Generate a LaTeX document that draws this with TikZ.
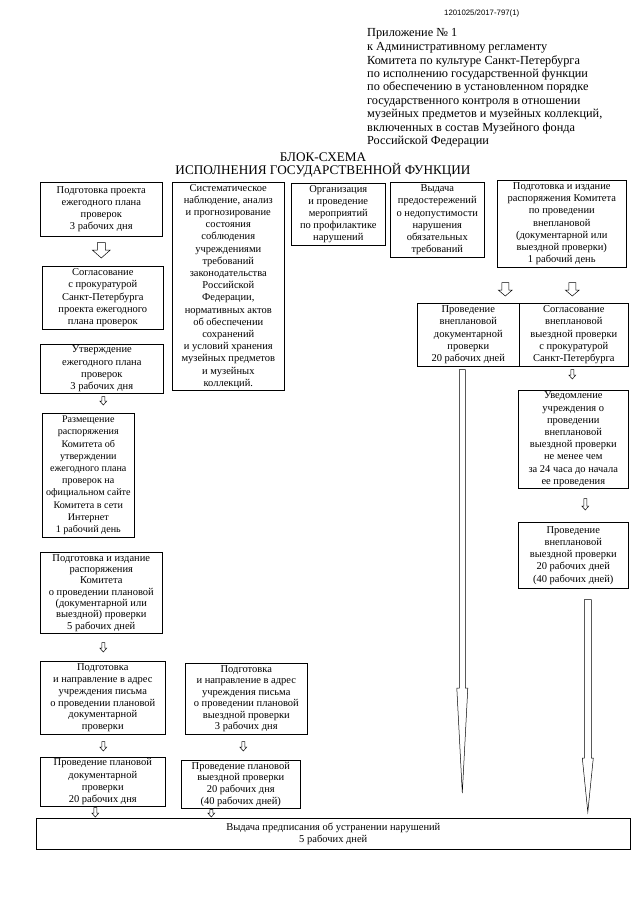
\documentclass[tikz,border=0pt]{standalone}
\usepackage{fontspec}
\setmainfont{Liberation Serif}
\newfontfamily\numfont{Liberation Sans}
\usetikzlibrary{calc,positioning}

% hollow block arrow: from, to, shaft half width, head half width, head length
\newcommand{\blockarrow}[5]{%
  \path #1 coordinate (ba-s);
  \path #2 coordinate (ba-e);
  \path (ba-s |- ba-e) coordinate (ba-t);
  \draw[arrowline] ($(ba-s)+(-#3,0)$) -- ($(ba-t)+(-#3,-#5)$) -- ($(ba-t)+(-#4,-#5)$) -- (ba-t)
    -- ($(ba-t)+(#4,-#5)$) -- ($(ba-t)+(#3,-#5)$) -- ($(ba-s)+(#3,0)$) -- cycle;}

\begin{document}
\begin{tikzpicture}[x=1pt,y=-1pt,
  box/.style={draw, line width=0.6pt, anchor=north west, align=center, inner sep=1pt,
    font=\fontsize{10.5}{12.2}\selectfont},
  tight/.style={font=\fontsize{10.5}{#1}\selectfont},
  arrowline/.style={line width=0.5pt, line join=miter}]
\useasboundingbox (0,0) rectangle (640,905);

% header
\node[anchor=north west, font=\numfont\fontsize{7.8}{8}\selectfont, inner sep=0pt] (docnum) at (444,10) {1201025/2017-797(1)};
\node[anchor=north west, align=left, inner sep=0pt, font=\fontsize{12.3}{13.4}\selectfont] (annex) at (367,28)
  {Приложение № 1\\[1pt]
   к Административному регламенту\\
   Комитета по культуре Санкт-Петербурга\\
   по исполнению государственной функции\\
   по обеспечению в установленном порядке\\
   государственного контроля в отношении\\
   музейных предметов и музейных коллекций,\\
   включенных в состав Музейного фонда\\
   Российской Федерации};
\node[align=center, inner sep=0pt, font=\fontsize{13.2}{13.2}\selectfont] (title) at (323,165)
  {БЛОК-СХЕМА\\ИСПОЛНЕНИЯ ГОСУДАРСТВЕННОЙ ФУНКЦИИ};

% left column
\node[box, minimum width=122, minimum height=54] (A1) at (40,182)
  {Подготовка проекта\\ежегодного плана\\проверок\\3 рабочих дня};
\node[box, minimum width=121, minimum height=63] (A2) at (42,266)
  {Согласование\\с прокуратурой\\Санкт-Петербурга\\проекта ежегодного\\плана проверок};
\node[box, minimum width=123, minimum height=49] (A3) at (40,344)
  {Утверждение\\ежегодного плана\\проверок\\3 рабочих дня};
\node[box, font=\fontsize{10.1}{12.2}\selectfont, minimum width=92, minimum height=124] (A4) at (42,413)
  {Размещение\\распоряжения\\Комитета об\\утверждении\\ежегодного плана\\проверок на\\официальном сайте\\Комитета в сети\\Интернет\\1 рабочий день};
\node[box, tight=11.3, minimum width=122, minimum height=81] (A5) at (40,552)
  {Подготовка и издание\\распоряжения\\Комитета\\о проведении плановой\\(документарной или\\выездной) проверки\\5 рабочих дней};
\node[box, tight=11.8, minimum width=125, minimum height=73] (A6) at (40,661)
  {Подготовка\\и направление в адрес\\учреждения письма\\о проведении плановой\\документарной\\проверки};
\node[box, minimum width=125, minimum height=49] (A7) at (40,757)
  {Проведение плановой\\документарной\\проверки\\20 рабочих дня};

% middle column
\node[box, minimum width=112, minimum height=208] (B1) at (172,182)
  {Систематическое\\наблюдение, анализ\\и прогнозирование\\состояния\\соблюдения\\учреждениями\\требований\\законодательства\\Российской\\Федерации,\\нормативных актов\\об обеспечении\\сохранений\\и условий хранения\\музейных предметов\\и музейных\\коллекций.};
\node[box, tight=11.5, minimum width=122, minimum height=71] (B2) at (185,663)
  {Подготовка\\и направление в адрес\\учреждения письма\\о проведении плановой\\выездной проверки\\3 рабочих дня};
\node[box, tight=11.6, minimum width=119, minimum height=48] (B3) at (181,760)
  {Проведение плановой\\выездной проверки\\20 рабочих дня\\(40 рабочих дней)};

% top row, right part
\node[box, tight=12, minimum width=94, minimum height=62] (C1) at (291,183)
  {Организация\\и проведение\\мероприятий\\по профилактике\\нарушений};
\node[box, minimum width=94, minimum height=75] (D1) at (390,182)
  {Выдача\\предостережений\\о недопустимости\\нарушения\\обязательных\\требований};
\node[box, minimum width=129, minimum height=87] (E1) at (497,180)
  {Подготовка и издание\\распоряжения Комитета\\по проведении\\внеплановой\\(документарной или\\выездной проверки)\\1 рабочий день};

% right part
\node[box, minimum width=102, minimum height=63] (E2a) at (417,303)
  {Проведение\\внеплановой\\документарной\\проверки\\20 рабочих дней};
\node[box, minimum width=109, minimum height=63] (E2b) at (519,303)
  {Согласование\\внеплановой\\выездной проверки\\с прокуратурой\\Санкт-Петербурга};
\node[box, minimum width=110, minimum height=98] (E3) at (518,390)
  {Уведомление\\учреждения о\\проведении\\внеплановой\\выездной проверки\\не менее чем\\за 24 часа до начала\\ее проведения};
\node[box, minimum width=110, minimum height=66] (E4) at (518,522)
  {Проведение\\внеплановой\\выездной проверки\\20 рабочих дней\\(40 рабочих дней)};

% bottom
\node[box, minimum width=594, minimum height=31] (F) at (36,818)
  {Выдача предписания об устранении нарушений\\5 рабочих дней};

% arrows
\blockarrow{($(A1.south)+(0,6)$)}{($(A2.north)+(0,-8)$)}{4}{9}{8}
\blockarrow{($(A3.south)+(1.5,3)$)}{($(A4.north)+(0,-8)$)}{1.5}{3.5}{4}
\blockarrow{($(A5.south)+(2,9)$)}{($(A6.north)+(0,-9)$)}{1.5}{3.5}{4}
\blockarrow{($(A6.south)+(0.5,7)$)}{($(A7.north)+(0,-6)$)}{1.5}{3.5}{4}
\blockarrow{($(A7.south)+(-7.5,1)$)}{($(F.north)+(0,-1)$)}{1.5}{3.5}{4}
\blockarrow{($(B2.south)+(-3,7)$)}{($(B3.north)+(0,-9)$)}{1.5}{3.5}{4}
\blockarrow{($(B3.south)+(-29.5,1)$)}{($(F.north)+(0,-1)$)}{1.5}{3.5}{4}
\blockarrow{($(E1.south)+(-56.5,15)$)}{($(E2a.north)+(0,-7)$)}{3.5}{7}{6}
\blockarrow{($(E1.south)+(10.5,15)$)}{($(E2b.north)+(0,-7)$)}{3.5}{7}{6}
\blockarrow{($(E2b.south)+(-1.5,3)$)}{($(E3.north)+(0,-11)$)}{1.5}{3.5}{4}
\blockarrow{($(E3.south)+(12,10)$)}{($(E4.north)+(0,-12)$)}{1.5}{3.5}{4}
\blockarrow{($(E2a.south)+(-6,3)$)}{($(F.north)+(0,-25)$)}{3}{5.5}{105}
\blockarrow{($(E4.south)+(14.5,11)$)}{($(F.north)+(0,-6)$)}{3.5}{5.5}{54}
\end{tikzpicture}
\end{document}
